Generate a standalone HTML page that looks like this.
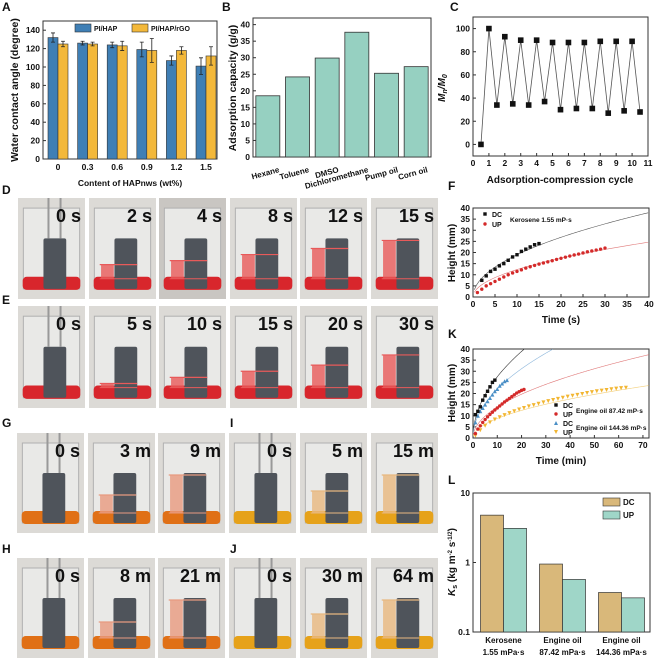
<!DOCTYPE html>
<html><head><meta charset="utf-8"><style>
html,body{margin:0;padding:0;background:#fff;}
svg{display:block;font-family:"Liberation Sans",Arial,sans-serif;}
text{font-weight:bold;}
</style></head><body>
<svg id="fig" width="655" height="660" viewBox="0 0 655 660" xmlns="http://www.w3.org/2000/svg"></svg>
<script>
// ---------- DATA ----------
const aCats = ["0","0.3","0.6","0.9","1.2","1.5"];
const aHap = [132,126,124,119,107,101];
const aHapErr = [5,2,3,8,5,9];
const aRgo = [125,125,123,118,118,112];
const aRgoErr = [3,2,5,13,4,10];
const aTicks = [0,20,40,60,80,100,120,140];
const bCats = ["Hexane","Toluene","DMSO","Dichloromethane","Pump oil","Corn oil"];
const bVals = [18.5,24.2,29.9,37.7,25.3,27.3];
const bTicks = [0,5,10,15,20,25,30,35,40];
const cX = [0.5,1,1.5,2,2.5,3,3.5,4,4.5,5,5.5,6,6.5,7,7.5,8,8.5,9,9.5,10,10.5];
const cY = [0,100,34,93,35,90,34,90,37,88,30,88,31,88,31,89,27,89,29,89,28];
const cXTicks = [0,1,2,3,4,5,6,7,8,9,10,11];
const cYTicks = [0,20,40,60,80,100];
const fDcT = [2,3,4,5,6,7,8,9,10,11,12,13,14,15];
const fDcH = [7.5,9.5,11.5,12.5,14,15,16.5,18,19,20.5,21.5,22.5,23.5,24];
const fUpT = [1,2,3,4,5,6,7,8,9,10,11,12,13,14,15,16,17,18,19,20,21,22,23,24,25,26,27,28,29,30];
const fUpH = [2,3.5,5,6,7,8,9,10,10.8,11.5,12.2,13,13.6,14.2,14.8,15.3,15.8,16.3,16.9,17.4,17.9,18.4,18.9,19.3,19.8,20.3,20.7,21.1,21.5,22];
const fFitK = [6.0,3.9];
const fXTicks = [0,5,10,15,20,25,30,35,40];
const hTicks = [0,5,10,15,20,25,30,35,40];
const kDc87T = [1,2,3,4,5,6,7,8,9];
const kDc87H = [10.5,12,14,17,19,21,23,25,26];
const kUp87T = [1,2,3,4,5,6,7,8,9,10,11,12,13,14,15,16,17,18,19,20,21];
const kUp87H = [2,4,5.5,7,8.3,9.5,10.6,11.6,12.6,13.5,14.4,15.3,16.2,17,17.8,18.6,19.4,20.2,20.8,21.4,21.8];
const kDc144T = [1,2,3,4,5,6,7,8,9,10,11,12,13,14];
const kDc144H = [7,10,12,13.5,15,16.5,18,19.5,21,22,23.5,24.5,25.5,26];
const kUp144T = [1,3,5,7,9,11,13,15,17,19,21,23,25,27,29,31,33,35,37,39,41,43,45,47,49,51,53,55,57,59,61,63];
const kUp144H = [1,3.5,5.5,7,8.3,9.3,10.3,11.2,12,12.8,13.5,14.2,14.8,15.4,16,16.6,17.1,17.6,18.1,18.6,19,19.4,19.8,20.2,20.6,21,21.3,21.6,21.9,22.2,22.4,22.6];
const kFitK = [8.7,4.4,6.96,2.77];
const kXTicks = [0,10,20,30,40,50,60,70];
const lCats1 = ["Kerosene","Engine oil","Engine oil"];
const lCats2 = ["1.55 mPa·s","87.42 mPa·s","144.36 mPa·s"];
const lDc = [4.8,0.95,0.37];
const lUp = [3.1,0.57,0.31];
const lTicks = [0.1,1,10];

// ---------- HELPERS ----------
const NS="http://www.w3.org/2000/svg";
const svg=document.getElementById('fig');
function el(tag,attrs,parent){const e=document.createElementNS(NS,tag);for(const k in attrs)e.setAttribute(k,attrs[k]);(parent||svg).appendChild(e);return e;}
function txt(x,y,s,size,anchor,parent,extra){const t=el('text',Object.assign({x:x,y:y,'font-size':size,'text-anchor':anchor||'middle',fill:'#111'},extra||{}),parent);t.textContent=s;return t;}
function lin(d0,d1,r0,r1){return v=>r0+(v-d0)*(r1-r0)/(d1-d0);}
function frame(x0,y0,x1,y1,g){const r=el('rect',{x:x0,y:y0,width:x1-x0,height:y1-y0,fill:'none',stroke:'#333','stroke-width':1},g);}
function group(name){const g=el('g',{});return g;}
function letter(x,y,s){const t=txt(x,y,s,12,'start');}
function yTicks(g,ticks,sy,x0,fmt){ticks.forEach(v=>{const y=sy(v);el('line',{x1:x0,x2:x0+3,y1:y,y2:y,stroke:'#333'},g);const t=txt(x0-3,y+3,fmt?fmt(v):String(v),8.5,'end',g);});}
function xTicks(g,ticks,sx,y1,ly){ticks.forEach(v=>{const x=sx(v);el('line',{x1:x,x2:x,y1:y1,y2:y1-3,stroke:'#333'},g);const t=txt(x,ly,String(v),8.5,'middle',g);});}
function yTitle(g,x,y,s,size){const t=txt(x,y,s,size||10,'middle',g,{transform:'rotate(-90 '+x+' '+y+')'});return t;}
function xTitle(g,x,y,s,size){const t=txt(x,y,s,size||10,'middle',g);}
function sq(g,x,y,c,s){return el('rect',{x:x-s,y:y-s,width:2*s,height:2*s,fill:c},g);}
function dot(g,x,y,c,r){return el('circle',{cx:x,cy:y,r:r,fill:c},g);}
function tri(g,x,y,c,s,down){const d=down?-1:1;return el('polygon',{points:`${x},${y-s*d} ${x-s},${y+s*d} ${x+s},${y+s*d}`,fill:c},g);}

// ---------- PANEL A ----------
(function(){
const g=group('panel-a-contact-angle-chart');
const x0=43,x1=217,y0=21,y1=159;
const sy=lin(0,150,y1,y0);
const cx=i=>58+i*29.6;
frame(x0,y0,x1,y1,g);
yTicks(g,aTicks,sy,x0);
aCats.forEach((c,i)=>{
  const t=txt(cx(i),170,c,8.5,'middle',g);
  el('line',{x1:cx(i),x2:cx(i),y1:y1,y2:y1-3,stroke:'#333'},g);
  [[aHap,aHapErr,'#3f7fb5',-10],[aRgo,aRgoErr,'#f3b83a',0]].forEach(([v,e,col,off],k)=>{
    const b=el('rect',{x:cx(i)+off,y:sy(v[i]),width:10,height:y1-sy(v[i]),fill:col,stroke:'#333','stroke-width':0.6},g);
    
    
    const xm=cx(i)+off+5;
    el('path',{d:`M${xm} ${sy(v[i]+e[i])}V${sy(v[i]-e[i])}M${xm-2} ${sy(v[i]+e[i])}h4M${xm-2} ${sy(v[i]-e[i])}h4`,stroke:'#222','stroke-width':0.8,fill:'none'},g);
  });
});
const l1=el('rect',{x:75,y:24,width:16,height:8,fill:'#3f7fb5',stroke:'#333','stroke-width':0.6},g);

txt(94,31,'PI/HAP',7,'start',g);
const l2=el('rect',{x:132,y:24,width:16,height:8,fill:'#f3b83a',stroke:'#333','stroke-width':0.6},g);

txt(151,31,'PI/HAP/rGO',7,'start',g);
yTitle(g,18,90,'Water contact angle (degree)',10.5);
xTitle(g,130,186,'Content of HAPnws (wt%)',8.5);
})();

// ---------- PANEL B ----------
(function(){
const g=group('panel-b-adsorption-capacity-chart');
const x0=253,x1=431,y0=18,y1=157;
const sy=lin(0,42,y1,y0);
const cw=(x1-x0)/6;
frame(x0,y0,x1,y1,g);
yTicks(g,bTicks,sy,x0);
bCats.forEach((c,i)=>{
  const cxm=x0+cw*(i+0.5);
  const b=el('rect',{x:cxm-12,y:sy(bVals[i]),width:24,height:y1-sy(bVals[i]),fill:'#96d0c1',stroke:'#333','stroke-width':0.8},g);
  
  
  const t=txt(cxm+12,172,c,8,'end',g,{transform:`rotate(-15 ${cxm+12} 172)`});
  
});
yTitle(g,236,88,'Adsorption capacity (g/g)',10.5);
})();

// ---------- PANEL C ----------
(function(){
const g=group('panel-c-cycle-chart');
const x0=473,x1=648,y0=17,y1=156;
const sx=lin(0,11,x0,x1),sy=lin(-10,110,y1,y0);
frame(x0,y0,x1,y1,g);
yTicks(g,cYTicks,sy,x0);
xTicks(g,cXTicks,sx,y1,166);
const p=el('polyline',{points:cX.map((x,i)=>sx(x)+','+sy(cY[i])).join(' '),fill:'none',stroke:'#555','stroke-width':0.8},g);

cX.forEach((x,i)=>{const s=sq(g,sx(x),sy(cY[i]),'#111',2.8);});
const t=txt(445,88,'',10,'middle',g,{transform:'rotate(-90 445 88)','font-style':'italic'});
t.innerHTML='M<tspan font-size="7" dy="2">n</tspan><tspan dy="-2">/M</tspan><tspan font-size="7" dy="2">0</tspan>';

xTitle(g,560,183,'Adsorption-compression cycle',10);
})();

// ---------- PANEL F ----------
(function(){
const g=group('panel-f-kerosene-height-chart');
const x0=473,x1=649,y0=208,y1=297;
const sx=lin(0,40,x0,x1),sy=lin(0,40,y1,y0);
frame(x0,y0,x1,y1,g);
yTicks(g,hTicks,sy,x0);
xTicks(g,fXTicks,sx,y1,307);
[['#555',fFitK[0]],['#e07a7a',fFitK[1]]].forEach(([c,k],j)=>{
  let pts=[];for(let t=0.3;t<=40;t+=0.5)pts.push(sx(t)+','+sy(Math.min(40,k*Math.sqrt(t))));
  const l=el('polyline',{points:pts.join(' '),fill:'none',stroke:c,'stroke-width':0.6},g);
  
});
fDcT.forEach((t,i)=>{const s=sq(g,sx(t),sy(fDcH[i]),'#111',1.7);});
fUpT.forEach((t,i)=>{const s=dot(g,sx(t),sy(fUpH[i]),'#d42a2a',1.7);});
sq(g,485,214,'#111',1.7);txt(492,217,'DC',7,'start',g);
dot(g,485,224,'#d42a2a',1.7);txt(492,227,'UP',7,'start',g);
txt(510,222,'Kerosene 1.55 mP·s',6.5,'start',g);
yTitle(g,455,253,'Height (mm)',10);
xTitle(g,561,323,'Time (s)',10);
})();

// ---------- PANEL K ----------
(function(){
const g=group('panel-k-engine-oil-height-chart');
const x0=473,x1=649,y0=349,y1=438;
const sx=lin(0,72.5,x0,x1),sy=lin(0,40,y1,y0);
frame(x0,y0,x1,y1,g);
yTicks(g,hTicks,sy,x0);
xTicks(g,kXTicks,sx,y1,448);
const fitCols=['#333','#e07a7a','#8fb8dc','#f3cf7a'];
kFitK.forEach((k,j)=>{
  let pts=[];for(let t=0.1;t<=72.5;t+=0.3){const h=k*Math.sqrt(t);if(h>40)break;pts.push(sx(t)+','+sy(h));}
  const l=el('polyline',{points:pts.join(' '),fill:'none',stroke:fitCols[j],'stroke-width':0.6},g);
  
});
kUp144T.forEach((t,i)=>{const s=tri(g,sx(t),sy(kUp144H[i]),'#f2b632',2,true);});
kDc144T.forEach((t,i)=>{const s=tri(g,sx(t),sy(kDc144H[i]),'#4a8fc6',2,false);});
kUp87T.forEach((t,i)=>{const s=dot(g,sx(t),sy(kUp87H[i]),'#d42a2a',1.7);});
kDc87T.forEach((t,i)=>{const s=sq(g,sx(t),sy(kDc87H[i]),'#111',1.7);});
sq(g,556,405,'#111',1.7);txt(563,408,'DC',7,'start',g);
dot(g,556,414,'#d42a2a',1.7);txt(563,417,'UP',7,'start',g);
tri(g,556,423,'#4a8fc6',2,false);txt(563,426,'DC',7,'start',g);
tri(g,556,432,'#f2b632',2,true);txt(563,435,'UP',7,'start',g);
txt(576,413,'Engine oil 87.42 mP·s',6.5,'start',g);
txt(576,430,'Engine oil 144.36 mP·s',6.5,'start',g);
yTitle(g,455,393,'Height (mm)',10);
xTitle(g,561,464,'Time (min)',10);
})();

// ---------- PANEL L ----------
(function(){
const g=group('panel-l-ks-chart');
const x0=473,x1=650,y0=493,y1=632;
const sy=v=>y1-(Math.log10(v)+1)/2*(y1-y0);
frame(x0,y0,x1,y1,g);
yTicks(g,lTicks,sy,x0);
const cw=(x1-x0)/3;
lCats1.forEach((c,i)=>{
  const cxm=x0+cw*(i+0.5)+1;
  const b1=el('rect',{x:cxm-23,y:sy(lDc[i]),width:23,height:y1-sy(lDc[i]),fill:'#d9b87a',stroke:'#333','stroke-width':0.7},g);
  
  const b2=el('rect',{x:cxm,y:sy(lUp[i]),width:23,height:y1-sy(lUp[i]),fill:'#9fd6c8',stroke:'#333','stroke-width':0.7},g);
  
  const t1=txt(cxm,643,c,8,'middle',g);
  const t2=txt(cxm,655,lCats2[i],8,'middle',g);
});
const s1=el('rect',{x:603,y:498,width:17,height:8,fill:'#d9b87a',stroke:'#333','stroke-width':0.6},g);

txt(623,505,'DC',8,'start',g);
const s2=el('rect',{x:603,y:511,width:17,height:8,fill:'#9fd6c8',stroke:'#333','stroke-width':0.6},g);

txt(623,518,'UP',8,'start',g);
const t=txt(455,562,'',10,'middle',g,{transform:'rotate(-90 455 562)'});
t.innerHTML='<tspan font-style="italic">K</tspan><tspan font-size="7" dy="2">s</tspan><tspan dy="-2"> (kg m</tspan><tspan font-size="6" dy="-3">-2</tspan><tspan dy="3"> s</tspan><tspan font-size="6" dy="-3">-1/2</tspan><tspan dy="3">)</tspan>';

})();

// ---------- PHOTOS ----------
function photo(x,y,w,h,label,liq,frac,mark,bg,fs){
  const g=group('photo-'+label.replace(/ /g,''));
  el('rect',{x:x,y:y,width:w,height:h,fill:bg||'#dcdad6'},g);
  el('rect',{x:x+w*0.08,y:y+h*0.1,width:w*0.84,height:h*0.8,fill:'#e9e9e7',stroke:'#b0b0b0','stroke-width':1},g);
  el('rect',{x:x+w*0.07,y:y+h*0.78,width:w*0.86,height:h*0.13,rx:4,fill:liq},g);
  const cy0=y+h*0.40,cy1=y+h*0.9;
  el('rect',{x:x+w*0.38,y:cy0,width:w*0.34,height:cy1-cy0,rx:2,fill:'#4f545b'},g);
  if(frac>0){
    const base=y+h*0.8;
    const top=base-(base-cy0)*frac;
    el('rect',{x:x+w*0.18,y:top,width:w*0.19,height:base-top,fill:mark,opacity:0.8},g);
    el('line',{x1:x+w*0.16,x2:x+w*0.72,y1:top,y2:top,stroke:mark,'stroke-width':1.2},g);
    el('line',{x1:x+w*0.16,x2:x+w*0.72,y1:base,y2:base,stroke:mark,'stroke-width':1},g);
  } else {
    el('rect',{x:x+w*0.44,y:y,width:2,height:cy0-y,fill:'#999'},g);
    el('rect',{x:x+w*0.62,y:y,width:2,height:cy0-y,fill:'#999'},g);
  }
  const t=txt(x+w-4,y+(fs||17)+6,label,fs||17,'end',g);
  
}
const dx=[18,89,159,230,300,371],pw=67;
const dL=["0 s","2 s","4 s","8 s","12 s","15 s"],dF=[0,0.35,0.45,0.6,0.75,0.95];
const eL=["0 s","5 s","10 s","15 s","20 s","30 s"],eF=[0,0.1,0.25,0.4,0.55,0.8];
dL.forEach((l,i)=>photo(dx[i],198,pw,101,l,'#d8262c',dF[i],'#e85a5a',i==2?'#c9c6c2':null,18));
eL.forEach((l,i)=>photo(dx[i],306,pw,102,l,'#d8262c',eF[i],'#e85a5a',null,18));
const gx=[17,88,158,229,300,371];
const gL=["0 s","3 m","9 m","0 s","5 m","15 m"],gF=[0,0.45,0.95,0,0.55,0.95];
gL.forEach((l,i)=>photo(gx[i],433,pw,100,l,i<3?'#e07016':'#e6a21a',gF[i],i<3?'#e89a80':'#e8b880',null,18));
const hL=["0 s","8 m","21 m","0 s","30 m","64 m"],hF=[0,0.4,0.95,0,0.6,0.95];
hL.forEach((l,i)=>photo(gx[i],558,pw,100,l,i<3?'#e07016':'#e6a21a',hF[i],i<3?'#e89a80':'#e8b880',null,18));

letter(2,11,'A');letter(222,11,'B');letter(450,11,'C');
letter(2,194,'D');letter(2,304,'E');letter(448,190,'F');
letter(2,427,'G');letter(230,427,'I');letter(2,553,'H');letter(230,553,'J');
letter(448,338,'K');letter(448,484,'L');
</script>
</body></html>
